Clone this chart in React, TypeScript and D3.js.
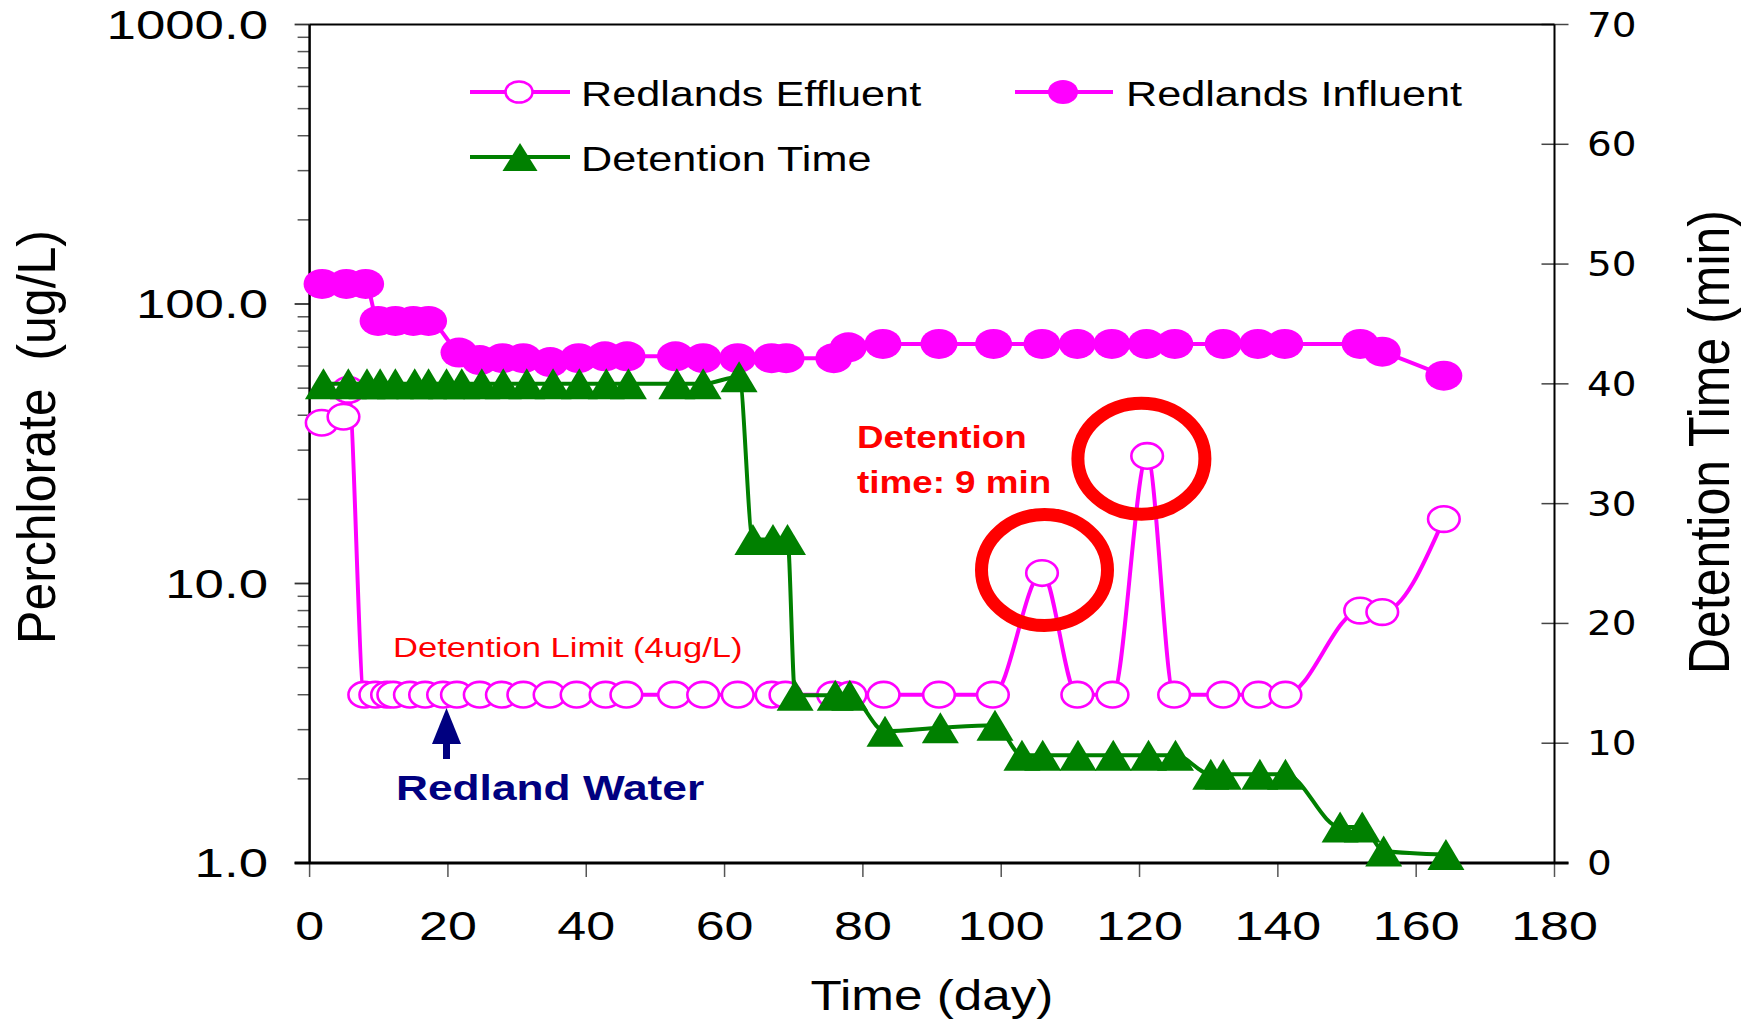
import React from 'react';
import * as d3 from 'd3';

const W = 1746;
const H = 1020;

// ---- data ----
const effluentDays = [1.75, 4.9, 5.6, 7.9, 9.5, 11.2, 12.1, 14.5, 16.7, 19.3, 21.3, 24.6, 27.8, 30.9, 34.7, 38.6, 42.8, 45.8, 52.7, 56.9, 61.9, 66.8, 68.8, 75.7, 78.2, 83.0, 91.0, 98.8, 105.9, 111.0, 116.1, 121.1, 125.0, 132.1, 137.2, 141.1, 151.9, 155.1, 164.0];
const effluentValues = [37.6, 39.5, 49.3, 4, 4, 4, 4, 4, 4, 4, 4, 4, 4, 4, 4, 4, 4, 4, 4, 4, 4, 4, 4, 4, 4, 4, 4, 4, 10.9, 4, 4, 28.6, 4, 4, 4, 4, 8.0, 7.9, 17.0];

const influentDays = [1.8, 5.3, 8.1, 9.9, 12.4, 15.0, 17.2, 21.6, 24.6, 27.9, 30.9, 34.8, 38.9, 42.7, 45.9, 52.9, 56.9, 61.9, 66.8, 68.9, 75.8, 77.9, 82.9, 91.0, 98.9, 105.9, 111.0, 116.0, 121.0, 125.1, 132.1, 137.1, 141.0, 151.9, 155.1, 164.0];
const influentValues = [118, 118, 118, 87, 87, 87, 87, 67, 63, 64, 64, 62, 64, 65, 65, 65, 64, 64, 64, 64, 64, 70, 72, 72, 72, 72, 72, 72, 72, 72, 72, 72, 72, 72, 67.5, 55.4];

const detentionDays = [2.0, 5.6, 8.3, 10.2, 12.4, 15.2, 17.2, 19.8, 22.0, 24.9, 28.0, 31.4, 35.2, 39.0, 42.9, 46.1, 53.1, 56.9, 62.1, 64.1, 67.0, 69.1, 70.2, 76.0, 78.1, 83.2, 91.2, 99.1, 103.0, 106.0, 111.1, 116.2, 121.3, 125.2, 130.3, 132.1, 137.4, 141.1, 149.0, 152.2, 155.3, 164.3];
const detentionValues = [40, 40, 40, 40, 40, 40, 40, 40, 40, 40, 40, 40, 40, 40, 40, 40, 40, 40, 40.6, 27, 27, 27, 14, 14, 14, 11, 11.3, 11.5, 9, 9, 9, 9, 9, 9, 7.4, 7.4, 7.4, 7.4, 3, 3, 1.0, 0.7];

const xTicks = [0, 20, 40, 60, 80, 100, 120, 140, 160, 180];
const leftTicks = [1, 10, 100, 1000];
const leftTickLabels = ['1.0', '10.0', '100.0', '1000.0'];
const rightTicks = [0, 10, 20, 30, 40, 50, 60, 70];

const legendLabels = ['Redlands Effluent', 'Redlands Influent', 'Detention Time'];

const MAGENTA = '#FF00FF';
const GREEN = '#008000';
const RED = '#FF0000';
const NAVY = '#000080';
const FONT = '"Liberation Sans", Arial, Helvetica, sans-serif';

// ---- layout ----
const L = 309.6;
const R = 1554.5;
const T = 24.5;
const B = 863;

const x = d3.scaleLinear().domain([0, 180]).range([L, R]);
const yL = d3.scaleLog().domain([1, 1000]).range([B, T]);
const yR = d3.scaleLinear().domain([0, 70]).range([B, T]);

function tri(cx: number, cy: number, w: number, h: number) {
  return `M${cx},${cy - h / 2}L${cx + w / 2},${cy + h / 2}L${cx - w / 2},${cy + h / 2}Z`;
}

function SText(props: { x: number; y: number; sx?: number; rot?: number; anchor?: string; size: number; fill?: string; weight?: string; family?: string; children: React.ReactNode }) {
  const { x: px, y: py, sx = 1, rot = 0, anchor = 'start', size, fill = '#000', weight = 'normal', family = FONT } = props;
  return (
    <text
      transform={`translate(${px},${py}) scale(${sx},1)${rot ? ` rotate(${rot})` : ''}`}
      textAnchor={anchor}
      fontSize={size}
      fill={fill}
      fontWeight={weight}
      fontFamily={family}
      style={{ whiteSpace: 'pre' }}
    >
      {props.children}
    </text>
  );
}

export default function App() {
  const effPts: [number, number][] = effluentDays.map((d, i) => [x(d), yL(effluentValues[i])]);
  const infPts: [number, number][] = influentDays.map((d, i) => [x(d), yL(influentValues[i])]);
  const detPts: [number, number][] = detentionDays.map((d, i) => [x(d), yR(detentionValues[i])]);
  const line = d3.line<[number, number]>().curve(d3.curveMonotoneX);

  const minorTicks: number[] = [];
  for (let dec = 1; dec < 1000; dec *= 10) {
    for (let k = 2; k <= 9; k++) minorTicks.push(dec * k);
  }

  return (
    <svg width={W} height={H} style={{ position: 'absolute', left: 0, top: 0, background: '#fff' }}>
      <rect x={0} y={0} width={W} height={H} fill="#fff" />

      {/* left axis minor ticks */}
      {minorTicks.map((v) => (
        <line key={'mn' + v} x1={L - 12} x2={L} y1={yL(v)} y2={yL(v)} stroke="#555" strokeWidth={1.5} />
      ))}
      {leftTicks.map((v) => (
        <line key={'mj' + v} x1={L - 15} x2={L} y1={yL(v)} y2={yL(v)} stroke="#333" strokeWidth={1.8} />
      ))}
      {leftTicks.map((v, i) => (
        <SText key={'lt' + v} x={268} y={yL(v) + 14} sx={1.32} anchor="end" size={40}>
          {leftTickLabels[i]}
        </SText>
      ))}

      {/* bottom ticks */}
      {xTicks.map((v) => (
        <line key={'xt' + v} x1={x(v)} x2={x(v)} y1={B} y2={B + 14} stroke="#555" strokeWidth={1.5} />
      ))}
      {xTicks.map((v) => (
        <SText key={'xl' + v} x={x(v)} y={940} sx={1.3} anchor="middle" size={40}>
          {String(v)}
        </SText>
      ))}

      {/* right ticks */}
      {rightTicks.map((v) => (
        <line key={'rt' + v} x1={R - 13} x2={R + 14} y1={yR(v)} y2={yR(v)} stroke="#444" strokeWidth={1.5} />
      ))}
      {rightTicks.map((v) => (
        <SText key={'rl' + v} x={1587} y={yR(v) + 12} sx={1.18} anchor="start" size={33} family='"DejaVu Sans", Verdana, sans-serif'>
          {String(v)}
        </SText>
      ))}

      {/* frame */}
      <line x1={L} x2={R} y1={T} y2={T} stroke="#000" strokeWidth={2} />
      <line x1={R} x2={R} y1={T} y2={B} stroke="#000" strokeWidth={2} />
      <line x1={L} x2={L} y1={T} y2={B} stroke="#000" strokeWidth={2.5} />
      <line x1={L - 15} x2={R + 14} y1={B} y2={B} stroke="#000" strokeWidth={3} />

      {/* axis titles */}
      <SText x={932} y={1010} sx={1.22} anchor="middle" size={42}>Time (day)</SText>
      <SText x={55} y={437} sx={1.08} rot={-90} anchor="middle" size={50}>Perchlorate  (ug/L)</SText>
      <SText x={1729} y={442} sx={1.14} rot={-90} anchor="middle" size={50}>Detention Time (min)</SText>

      {/* effluent */}
      <path d={line(effPts) || ''} fill="none" stroke={MAGENTA} strokeWidth={4} />
      {effPts.map(([cx, cy], i) => (
        <ellipse key={'e' + i} cx={cx} cy={cy} rx={15.8} ry={12.8} fill="#fff" stroke={MAGENTA} strokeWidth={2.6} />
      ))}

      {/* influent */}
      <path d={line(infPts) || ''} fill="none" stroke={MAGENTA} strokeWidth={4} />
      {infPts.map(([cx, cy], i) => (
        <ellipse key={'i' + i} cx={cx} cy={cy} rx={18.5} ry={15} fill={MAGENTA} />
      ))}

      {/* detention */}
      <path d={line(detPts) || ''} fill="none" stroke={GREEN} strokeWidth={4} />
      {detPts.map(([cx, cy], i) => (
        <path key={'d' + i} d={tri(cx, cy, 37, 31)} fill={GREEN} />
      ))}

      {/* legend */}
      <line x1={470} x2={570} y1={92} y2={92} stroke={MAGENTA} strokeWidth={4} />
      <ellipse cx={519} cy={92} rx={13.5} ry={10.5} fill="#fff" stroke={MAGENTA} strokeWidth={2.5} />
      <SText x={581} y={106} sx={1.2} size={36}>{legendLabels[0]}</SText>

      <line x1={1015} x2={1113} y1={92} y2={92} stroke={MAGENTA} strokeWidth={4} />
      <ellipse cx={1063} cy={92} rx={15} ry={12} fill={MAGENTA} />
      <SText x={1126} y={106} sx={1.2} size={36}>{legendLabels[1]}</SText>

      <line x1={470} x2={570} y1={157} y2={157} stroke={GREEN} strokeWidth={4} />
      <path d={tri(520, 157, 35, 28)} fill={GREEN} />
      <SText x={581} y={171} sx={1.2} size={36}>{legendLabels[2]}</SText>

      {/* annotations */}
      <SText x={393} y={657} sx={1.28} size={27} fill={RED}>Detention Limit (4ug/L)</SText>
      <line x1={446.5} x2={446.5} y1={740} y2={759} stroke={NAVY} strokeWidth={7} />
      <path d={`M446.5,708L461,744L432,744Z`} fill={NAVY} />
      <SText x={396} y={800} sx={1.265} size={35} weight="bold" fill={NAVY}>Redland Water</SText>

      <SText x={857} y={448} sx={1.15} size={32} weight="bold" fill={RED}>Detention</SText>
      <SText x={857} y={493} sx={1.15} size={32} weight="bold" fill={RED}>time: 9 min</SText>

      <ellipse cx={1044.5} cy={570} rx={63} ry={55.5} fill="none" stroke={RED} strokeWidth={13} />
      <ellipse cx={1141.4} cy={458.7} rx={63.5} ry={55.5} fill="none" stroke={RED} strokeWidth={13} />
    </svg>
  );
}
